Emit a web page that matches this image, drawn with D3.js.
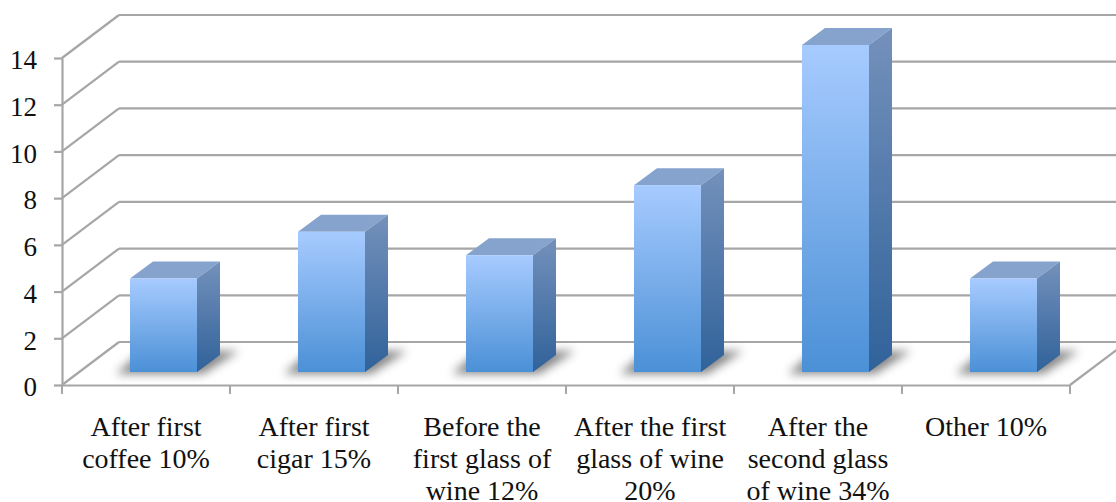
<!DOCTYPE html>
<html>
<head>
<meta charset="utf-8">
<script src="https://cdn.jsdelivr.net/npm/d3@7"></script>
<style>
  html, body { margin: 0; padding: 0; background: #fff; }
  svg { display: block; }
  text { font-family: "Liberation Serif", serif; fill: #111; }
  .grid line { stroke: #a6a6a6; stroke-width: 2.2; }
  .axis .domain, .axis .tick line { stroke: #a6a6a6; stroke-width: 2.2; }
  .axis .tick text { font-size: 27px; font-family: "Liberation Serif", serif; fill: #111; }
  .cat-label { font-size: 28px; text-anchor: middle; }
</style>
</head>
<body>
<svg width="1116" height="502"></svg>
<script>
const categories = [
  ['After first', 'coffee 10%'],
  ['After first', 'cigar 15%'],
  ['Before the', 'first glass of', 'wine 12%'],
  ['After the first', 'glass of wine', '20%'],
  ['After the', 'second glass', 'of wine 34%'],
  ['Other 10%']
];
const values = [4, 6, 5, 8, 14, 4];
const yTicks = [0, 2, 4, 6, 8, 10, 12, 14];

const svg = d3.select('svg');

const floorDepth = { x: 57, y: -43 }; // back wall offset
const barDepth = { x: 23, y: -17 };   // bar's own 3d depth
const barOffset = { x: 68, y: -13 };  // where the bar front stands on the floor
const barWidth = 67;

const xScale = d3.scaleBand()
  .domain(d3.range(categories.length))
  .range([62, 1070]);

const yScale = d3.scaleLinear()
  .domain([0, 14])
  .range([385, 58]);

const defs = svg.append('defs');

const addGradient = (id, top, bottom) => {
  const grad = defs.append('linearGradient')
    .attr('id', id)
    .attr('x1', 0).attr('y1', 0)
    .attr('x2', 0).attr('y2', 1);
  grad.append('stop').attr('offset', '0%').attr('stop-color', top);
  grad.append('stop').attr('offset', '100%').attr('stop-color', bottom);
};
addGradient('front', '#a7cbff', '#4b90d6');
addGradient('side', '#7491bb', '#30629a');

defs.append('filter')
  .attr('id', 'blur')
  .attr('x', '-30%').attr('y', '-80%')
  .attr('width', '160%').attr('height', '260%')
  .append('feGaussianBlur')
  .attr('stdDeviation', 5);

// gridlines on the back wall and the slanted side wall
const grid = svg.append('g').attr('class', 'grid');
yTicks.forEach(t => {
  const y = yScale(t);
  grid.append('line')
    .attr('x1', 62).attr('y1', y)
    .attr('x2', 62 + floorDepth.x).attr('y2', y + floorDepth.y);
  grid.append('line')
    .attr('x1', 62 + floorDepth.x).attr('y1', y + floorDepth.y)
    .attr('x2', 1116).attr('y2', y + floorDepth.y);
});
// right edge of the floor
grid.append('line')
  .attr('x1', 1070).attr('y1', yScale(0))
  .attr('x2', 1070 + floorDepth.x).attr('y2', yScale(0) + floorDepth.y);

const yAxis = d3.axisLeft(yScale)
  .tickValues(yTicks)
  .tickSizeInner(8)
  .tickSizeOuter(0)
  .tickPadding(17);

const yAxisGroup = svg.append('g')
  .attr('class', 'axis')
  .attr('transform', 'translate(62, 0)')
  .call(yAxis);

yAxisGroup.selectAll('.tick text').attr('dy', '0.4em');

const xAxis = d3.axisBottom(xScale)
  .tickValues([])
  .tickSizeOuter(0);

const xAxisGroup = svg.append('g')
  .attr('class', 'axis')
  .attr('transform', `translate(0, ${yScale(0)})`)
  .call(xAxis);

// ticks sit between the categories
xAxisGroup.selectAll('.boundary')
  .data(d3.range(categories.length + 1))
  .enter().append('line')
  .attr('class', 'boundary')
  .attr('x1', d => 62 + d * xScale.bandwidth())
  .attr('x2', d => 62 + d * xScale.bandwidth())
  .attr('y1', 0)
  .attr('y2', 9)
  .attr('stroke', '#a6a6a6')
  .attr('stroke-width', 2);

const bars = svg.selectAll('.bar')
  .data(values)
  .enter().append('g')
  .attr('class', 'bar')
  .attr('transform', (d, i) => `translate(${xScale(i) + barOffset.x}, ${barOffset.y})`);

const base = yScale(0);

// floor shadow
bars.append('path')
  .attr('d', `M-14,${base + 2} L${barWidth + 6},${base + 2} L${barWidth + 42},${base - 21} L12,${base - 21} Z`)
  .attr('fill', '#555')
  .attr('opacity', 0.7)
  .attr('filter', 'url(#blur)');

// top face
bars.append('path')
  .attr('d', d => {
    const t = yScale(d);
    return `M0,${t} L${barDepth.x},${t + barDepth.y} L${barWidth + barDepth.x},${t + barDepth.y} L${barWidth},${t} Z`;
  })
  .attr('fill', '#85a3cd');

// side face
bars.append('path')
  .attr('d', d => {
    const t = yScale(d);
    return `M${barWidth},${t} L${barWidth + barDepth.x},${t + barDepth.y} L${barWidth + barDepth.x},${base + barDepth.y} L${barWidth},${base} Z`;
  })
  .attr('fill', 'url(#side)');

// front face
bars.append('rect')
  .attr('x', 0)
  .attr('y', d => yScale(d))
  .attr('width', barWidth)
  .attr('height', d => base - yScale(d))
  .attr('fill', 'url(#front)');

// category labels
const labels = svg.selectAll('.cat-label')
  .data(categories)
  .enter().append('text')
  .attr('class', 'cat-label')
  .attr('transform', (d, i) => `translate(${xScale(i) + xScale.bandwidth() / 2}, 436)`);

labels.selectAll('tspan')
  .data(d => d)
  .enter().append('tspan')
  .attr('x', 0)
  .attr('y', (d, i) => i * 32)
  .text(d => d);
</script>
</body>
</html>
